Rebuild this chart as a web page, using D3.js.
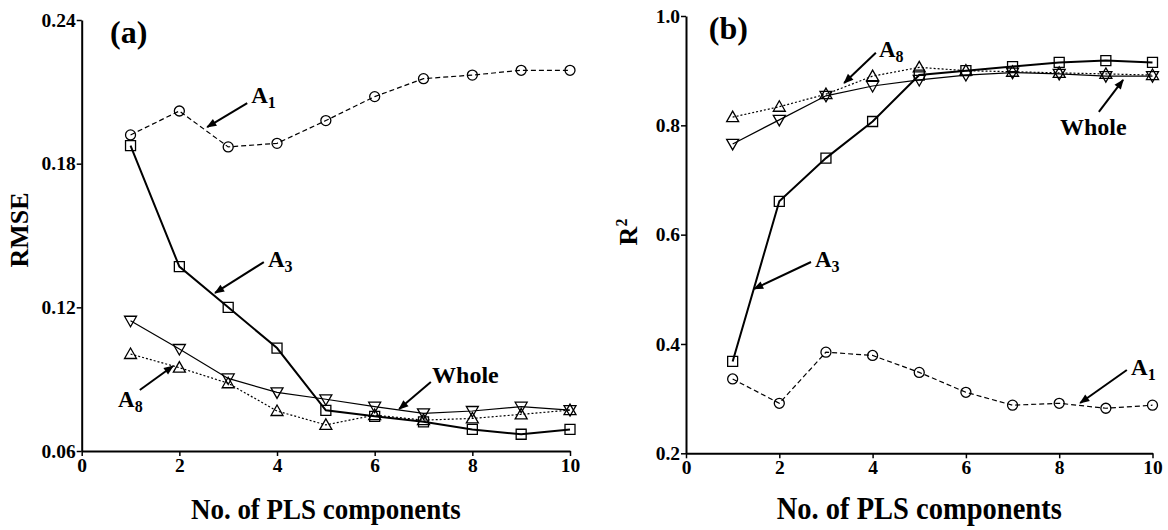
<!DOCTYPE html>
<html>
<head>
<meta charset="utf-8">
<script src="https://cdn.jsdelivr.net/npm/d3@7"></script>
<style>
  body { margin: 0; background: #fff; }
  text { font-family: "Liberation Serif", "Times New Roman", serif; font-weight: bold; fill: #000; }
</style>
</head>
<body>
<div id="chart"></div>
<script>
"use strict";

// === DATA ===
const components = [1, 2, 3, 4, 5, 6, 7, 8, 9, 10];
const xTicks = [0, 2, 4, 6, 8, 10];
const rmseTicks = [0.06, 0.12, 0.18, 0.24];
const r2Ticks = [0.2, 0.4, 0.6, 0.8, 1.0];
const seriesNames = ["A1", "A3", "A8", "Whole"];

// panel (a) RMSE
const rmseA1 = [0.192, 0.202, 0.187, 0.1885, 0.198, 0.208, 0.2155, 0.217, 0.219, 0.219];
const rmseA3 = [0.1875, 0.137, 0.120, 0.103, 0.077, 0.0745, 0.0722, 0.069, 0.067, 0.069];
const rmseA8 = [0.1005, 0.0948, 0.0883, 0.0767, 0.0709, 0.075, 0.0729, 0.0736, 0.0753, 0.0771];
const rmseWhole = [0.1144, 0.1026, 0.0903, 0.0845, 0.0816, 0.0785, 0.0757, 0.0767, 0.0785, 0.0771];

// panel (b) R2
const r2A1 = [0.336, 0.2915, 0.385, 0.379, 0.348, 0.3116, 0.288, 0.2915, 0.2824, 0.288];
const r2A3 = [0.368, 0.661, 0.740, 0.807, 0.892, 0.900, 0.9075, 0.915, 0.9185, 0.915];
const r2A8 = [0.815, 0.834, 0.857, 0.890, 0.906, 0.900, 0.898, 0.896, 0.894, 0.892];
const r2Whole = [0.766, 0.810, 0.854, 0.872, 0.883, 0.892, 0.8965, 0.894, 0.890, 0.890];

// annotation labels: text, subscript, label anchor, arrow tail, arrow tip (data units)
const notesA = [
  { text: "A", sub: "1", at: [3.47, 0.2053], from: [3.39, 0.2053], to: [2.57, 0.1953] },
  { text: "A", sub: "3", at: [3.815, 0.1368], from: [3.73, 0.1389], to: [2.73, 0.126] },
  { text: "A", sub: "8", at: [0.745, 0.0784], from: [1.19, 0.0855], to: [1.87, 0.0955] },
  { text: "Whole", sub: "", at: [7.175, 0.0884], from: [7.15, 0.0888], to: [6.5, 0.0775] }
];
const notesB = [
  { text: "A", sub: "8", at: [4.137, 0.925], from: [4.07, 0.9326], to: [3.39, 0.8775] },
  { text: "Whole", sub: "", at: [8.017, 0.7825], from: [8.85, 0.8245], to: [9.37, 0.883] },
  { text: "A", sub: "3", at: [2.765, 0.541], from: [2.68, 0.55], to: [1.46, 0.5007] },
  { text: "A", sub: "1", at: [9.54, 0.3435], from: [9.45, 0.3524], to: [8.45, 0.292] }
];

// === STYLES ===
const seriesStyle = {
  A1: { shape: "circle", dash: "5,3", width: 1.2 },
  A3: { shape: "square", dash: null, width: 2 },
  A8: { shape: "up", dash: "2,2", width: 1.2 },
  Whole: { shape: "down", dash: null, width: 1.2 }
};

const markerPaths = {
  circle: "M5,0A5,5 0 1,1 -5,0A5,5 0 1,1 5,0Z",
  square: "M-5,-5H5V5H-5Z",
  up: "M0,-6L6,4.5L-6,4.5Z",
  down: "M0,6L6,-4.5L-6,-4.5Z"
};

const panels = [
  {
    label: "(a)", labelAt: [0.58, 0.2303], labelSize: 32,
    left: 81.7, right: 570, top: 20, bottom: 451,
    yDomain: [0.06, 0.24], yTicks: rmseTicks, yFormat: d3.format(".2f"),
    yTitle: "RMSE", yTitlePos: [28, 230],
    xTitleSize: 27,
    data: { A1: rmseA1, A3: rmseA3, A8: rmseA8, Whole: rmseWhole },
    notes: notesA
  },
  {
    label: "(b)", labelAt: [0.49, 0.958], labelSize: 32,
    left: 686, right: 1152.5, top: 16, bottom: 453.3,
    yDomain: [0.2, 1.0], yTicks: r2Ticks, yFormat: d3.format(".1f"),
    yTitle: "R", yTitleSup: "2", yTitlePos: [637, 232],
    xTitleSize: 28.5,
    data: { A1: r2A1, A3: r2A3, A8: r2A8, Whole: r2Whole },
    notes: notesB
  }
];

// === SVG ===
const svgWidth = 1168, svgHeight = 530;
const svg = d3.select("#chart").append("svg")
  .attr("width", svgWidth)
  .attr("height", svgHeight);

svg.append("defs").append("marker")
  .attr("id", "arrow")
  .attr("viewBox", "0 -5 10 10")
  .attr("refX", 9)
  .attr("refY", 0)
  .attr("markerUnits", "userSpaceOnUse")
  .attr("markerWidth", 13)
  .attr("markerHeight", 10)
  .attr("orient", "auto")
  .append("path")
  .attr("d", "M0,-4L10,0L0,4Z")
  .attr("fill", "#000");

panels.forEach(p => {
  const x = d3.scaleLinear().domain([0, 10]).range([p.left, p.right]);
  const y = d3.scaleLinear().domain(p.yDomain).range([p.bottom, p.top]);
  const g = svg.append("g");

  // axes
  const xAxis = d3.axisBottom(x).tickValues(xTicks).tickSize(5).tickSizeOuter(0).tickPadding(2);
  const yAxis = d3.axisLeft(y).tickValues(p.yTicks).tickFormat(p.yFormat).tickSize(5).tickSizeOuter(0).tickPadding(1);

  const gx = g.append("g")
    .attr("transform", `translate(0,${p.bottom})`)
    .call(xAxis);
  const gy = g.append("g")
    .attr("transform", `translate(${p.left},0)`)
    .call(yAxis);

  [gx, gy].forEach(ax => {
    ax.select(".domain").attr("stroke", "#000").attr("stroke-width", 2);
    ax.selectAll(".tick line").attr("stroke", "#000").attr("stroke-width", 1.5);
    ax.selectAll(".tick text")
      .attr("font-family", "Liberation Serif, Times New Roman, serif")
      .attr("font-weight", "bold")
      .attr("font-size", 19.5)
      .attr("fill", "#000");
  });

  // axis titles (glyphs in the original are a bit taller than wide)
  g.append("text")
    .attr("transform", `translate(${(p.left + p.right) / 2},519) scale(1,1.12)`)
    .attr("text-anchor", "middle")
    .attr("font-size", p.xTitleSize)
    .text("No. of PLS components");

  const yt = g.append("text")
    .attr("transform", `translate(${p.yTitlePos[0]},${p.yTitlePos[1]}) rotate(-90)`)
    .attr("text-anchor", "middle")
    .attr("font-size", 26)
    .text(p.yTitle);
  if (p.yTitleSup) {
    yt.append("tspan")
      .attr("font-size", 16)
      .attr("dy", -10)
      .text(p.yTitleSup);
  }

  // panel label
  g.append("text")
    .attr("x", x(p.labelAt[0]))
    .attr("y", y(p.labelAt[1]))
    .attr("font-size", p.labelSize)
    .text(p.label);

  // lines
  const line = d3.line().x((d, i) => x(components[i])).y(d => y(d));
  seriesNames.forEach(name => {
    const st = seriesStyle[name];
    g.append("path")
      .datum(p.data[name])
      .attr("d", line)
      .attr("fill", "none")
      .attr("stroke", "#000")
      .attr("stroke-width", st.width)
      .attr("stroke-dasharray", st.dash);
  });

  // markers
  seriesNames.forEach(name => {
    const st = seriesStyle[name];
    g.selectAll(null)
      .data(p.data[name])
      .enter()
      .append("path")
      .attr("transform", (d, i) => `translate(${x(components[i])},${y(d)})`)
      .attr("d", markerPaths[st.shape])
      .attr("fill", "none")
      .attr("stroke", "#000")
      .attr("stroke-width", 1.3);
  });

  // annotations
  p.notes.forEach(n => {
    g.append("line")
      .attr("x1", x(n.from[0]))
      .attr("y1", y(n.from[1]))
      .attr("x2", x(n.to[0]))
      .attr("y2", y(n.to[1]))
      .attr("stroke", "#000")
      .attr("stroke-width", 2)
      .attr("marker-end", "url(#arrow)");

    const t = g.append("text")
      .attr("x", x(n.at[0]))
      .attr("y", y(n.at[1]))
      .attr("font-size", n.sub ? 23 : 24)
      .text(n.text);
    if (n.sub) {
      t.append("tspan")
        .attr("font-size", 16)
        .attr("dy", 5)
        .text(n.sub);
    }
  });
});
</script>
</body>
</html>
